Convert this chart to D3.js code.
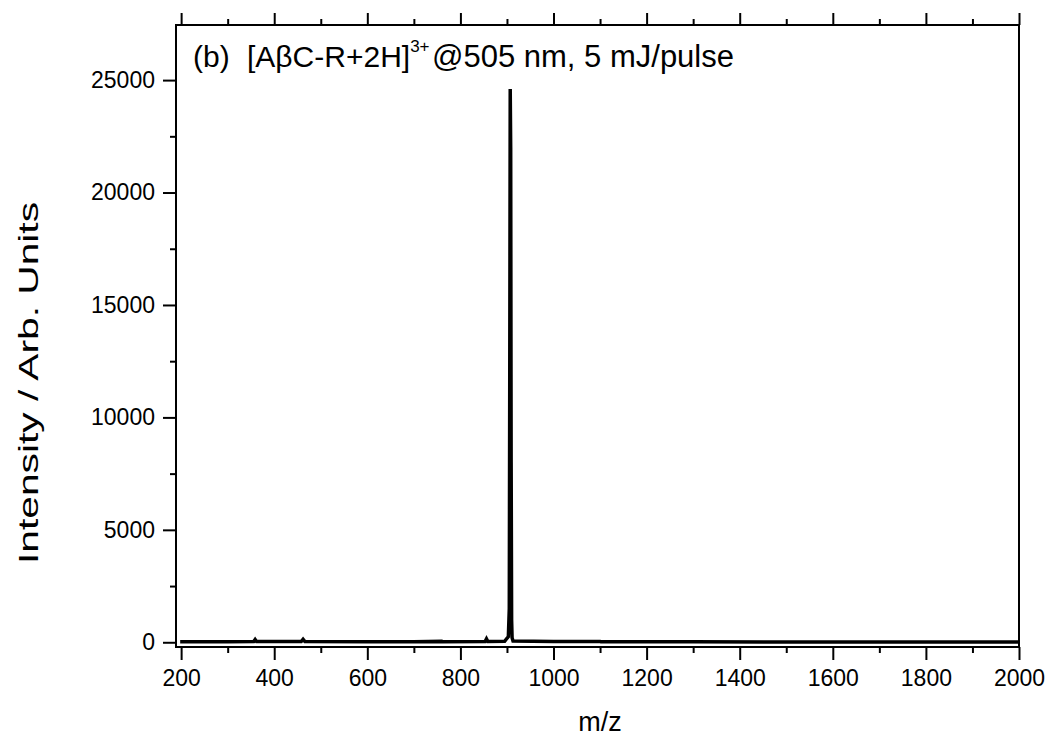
<!DOCTYPE html>
<html>
<head>
<meta charset="utf-8">
<script src="https://d3js.org/d3.v7.min.js"></script>
<style>
  body { margin: 0; background: #fff; }
  text { font-family: "Liberation Sans", Arial, sans-serif; fill: #000; }
</style>
</head>
<body>
<div id="chart"></div>
<script>
// spectrum (m/z, intensity)
var mz        = [198, 300, 356, 359, 362, 458, 462, 466, 600, 700, 760, 762, 853, 856, 859, 895, 900, 903, 905, 906, 907, 908, 909, 910, 911, 913, 1000, 1100, 1102, 1300, 1500, 2000];
var intensity = [ 20,  20,  30, 120,  30,  30, 130,  30,  20,  20,  40,  20,  30, 150,  30,  40, 180, 250, 1500, 12000, 24600, 22000, 8000, 1000, 200, 60, 30, 40, 20, 20, 10, 10];

var xTicks = [200, 400, 600, 800, 1000, 1200, 1400, 1600, 1800, 2000];
var xMinor = [300, 500, 700, 900, 1100, 1300, 1500, 1700, 1900];
var yTicks = [0, 5000, 10000, 15000, 20000, 25000];
var yMinor = [2500, 7500, 12500, 17500, 22500];

var W = 1051, H = 740;
var svg = d3.select("#chart").append("svg")
  .attr("width", W).attr("height", H);

var x = d3.scaleLinear().domain([189, 2000]).range([176, 1019]);
var y = d3.scaleLinear().domain([-210, 27450]).range([647, 25]);

// minor ticks first
svg.append("g").attr("transform", "translate(0,647)")
  .call(d3.axisBottom(x).tickValues(xMinor).tickSize(6).tickFormat(""))
  .call(g => g.select(".domain").remove());
svg.append("g").attr("transform", "translate(0,25)")
  .call(d3.axisTop(x).tickValues(xMinor).tickSize(6).tickFormat(""))
  .call(g => g.select(".domain").remove());
svg.append("g").attr("transform", "translate(176,0)")
  .call(d3.axisLeft(y).tickValues(yMinor).tickSize(6).tickFormat(""))
  .call(g => g.select(".domain").remove());

// major ticks
svg.append("g").attr("class", "xaxis").attr("transform", "translate(0,647)")
  .call(d3.axisBottom(x).tickValues(xTicks).tickSize(13).tickPadding(10).tickFormat(d3.format("d")))
  .call(g => g.select(".domain").remove());
svg.append("g").attr("transform", "translate(0,25)")
  .call(d3.axisTop(x).tickValues(xTicks).tickSize(12).tickFormat(""))
  .call(g => g.select(".domain").remove());
svg.append("g").attr("class", "yaxis").attr("transform", "translate(176,0)")
  .call(d3.axisLeft(y).tickValues(yTicks).tickSize(13).tickPadding(8).tickFormat(d3.format("d")))
  .call(g => g.select(".domain").remove());

svg.selectAll(".tick line").attr("stroke", "#000").attr("stroke-width", 2);
svg.selectAll(".tick text").style("font-size", "23px").attr("fill", "#000");

// frame
svg.append("rect")
  .attr("x", 176).attr("y", 25)
  .attr("width", 1019 - 176).attr("height", 647 - 25)
  .attr("fill", "none").attr("stroke", "#000").attr("stroke-width", 2);

// spectrum
var pts = mz.map((m, i) => [m, intensity[i]]);
svg.append("path")
  .datum(pts)
  .attr("fill", "none")
  .attr("stroke", "#000")
  .attr("stroke-width", 3.5)
  .attr("d", d3.line().x(d => x(d[0])).y(d => y(d[1])));

// annotation
var t = svg.append("text").attr("x", 193).attr("y", 67).style("font-size", "30px");
t.append("tspan").text("(b)");
t.append("tspan").attr("x", 247).text("[A\u03B2C-R+2H]");
t.append("tspan").attr("dy", -15).style("font-size", "17px").text("3+");
t.append("tspan").attr("x", 432).attr("dy", 15).style("font-size", "31px").text("@505 nm, 5 mJ/pulse");

// axis titles
svg.append("text")
  .attr("x", 600).attr("y", 731)
  .attr("text-anchor", "middle")
  .style("font-size", "27px")
  .text("m/z");

svg.append("text")
  .attr("transform", "translate(38,383) rotate(-90)")
  .attr("text-anchor", "middle")
  .attr("textLength", 362)
  .attr("lengthAdjust", "spacingAndGlyphs")
  .style("font-size", "28px")
  .text("Intensity / Arb. Units");
</script>
</body>
</html>
